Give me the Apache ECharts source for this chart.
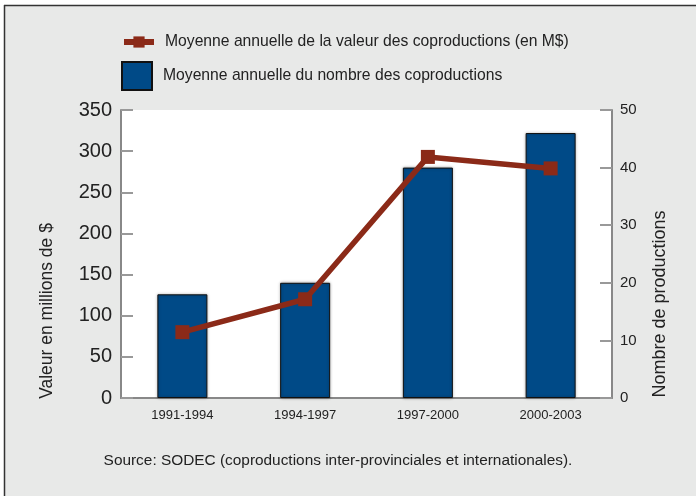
<!DOCTYPE html>
<html>
<head>
<meta charset="utf-8">
<script src="https://cdn.jsdelivr.net/npm/echarts@6/dist/echarts.min.js"></script>
<style>
  html, body { margin: 0; padding: 0; background: #fff; }
  #chart { width: 696px; height: 496px; }
</style>
</head>
<body>
<div id="chart"></div>
<script>
// periodes
var periodes = ["1991-1994", "1994-1997", "1997-2000", "2000-2003"];
// valeur moyenne annuelle (M$) - axe gauche
var valeurs = [80, 120, 293, 279];
// nombre moyen annuel de coproductions - axe droit
var nombres = [18, 20, 40, 46];

var nomValeur = "Moyenne annuelle de la valeur des coproductions (en M$)";
var nomNombre = "Moyenne annuelle du nombre des coproductions";

var font = "Liberation Sans, Arial, sans-serif";
var chart = echarts.init(document.getElementById("chart"));

chart.setOption({
  backgroundColor: "#e8e9e8",
  textStyle: { fontFamily: font },
  animation: false,
  graphic: [
    { type: "rect", shape: { x: 0, y: 0, width: 696, height: 5 }, style: { fill: "#fff" } },
    { type: "rect", shape: { x: 0, y: 0, width: 4, height: 496 }, style: { fill: "#fff" } },
    { type: "line", shape: { x1: 4, y1: 5.5, x2: 696, y2: 5.5 }, style: { stroke: "#333", lineWidth: 1.5 } },
    { type: "line", shape: { x1: 4.5, y1: 5, x2: 4.5, y2: 496 }, style: { stroke: "#333", lineWidth: 1.5 } },
    {
      type: "text", x: 47, y: 311, rotation: Math.PI / 2,
      style: { text: "Valeur en millions de $", fill: "#222", font: "17.5px " + font, align: "center", verticalAlign: "middle" }
    },
    {
      type: "text", x: 660, y: 304, rotation: Math.PI / 2,
      style: { text: "Nombre de productions", fill: "#222", font: "18px " + font, align: "center", verticalAlign: "middle" }
    },
    {
      type: "text", x: 338, y: 461,
      style: { text: "Source: SODEC (coproductions inter-provinciales et internationales).", fill: "#222", font: "15.4px " + font, align: "center", verticalAlign: "middle" }
    }
  ],
  legend: [
    {
      data: [nomValeur], left: 121, top: 34, padding: 0, itemWidth: 30, itemHeight: 14,
      lineStyle: { width: 6 },
      textStyle: { fontSize: 15.7, color: "#222", fontFamily: font, padding: [0, 0, 0, 6] }
    },
    {
      data: [{ name: nomNombre, icon: "rect" }], left: 121, top: 61, padding: 0, itemWidth: 30, itemHeight: 28,
      textStyle: { fontSize: 15.7, color: "#222", fontFamily: font, padding: [0, 0, 0, 6] }
    }
  ],
  grid: { left: 121, right: 84, top: 110, bottom: 98, show: true, backgroundColor: "#fff", borderWidth: 0 },
  xAxis: {
    type: "category",
    data: periodes,
    axisTick: { show: false },
    axisLine: { lineStyle: { color: "#888", width: 2 } },
    axisLabel: { fontSize: 13, color: "#222", margin: 11 }
  },
  yAxis: [
    {
      type: "value", min: 0, max: 350, interval: 50,
      axisLine: { show: true, lineStyle: { color: "#888", width: 2 } },
      axisTick: { show: true, inside: true, length: 12, lineStyle: { color: "#999", width: 2 } },
      splitLine: { show: false },
      axisLabel: { fontSize: 20, color: "#222", margin: 9 }
    },
    {
      type: "value", min: 0, max: 50, interval: 10,
      axisLine: { show: true, lineStyle: { color: "#888", width: 2 } },
      axisTick: { show: true, inside: true, length: 12, lineStyle: { color: "#999", width: 2 } },
      splitLine: { show: false },
      axisLabel: { fontSize: 15, color: "#222", margin: 8 }
    }
  ],
  series: [
    {
      name: nomNombre,
      type: "bar",
      yAxisIndex: 1,
      data: nombres,
      barWidth: 50,
      itemStyle: {
        color: "#004a87", borderColor: "#111", borderWidth: 1,
        shadowColor: "rgba(0,0,0,0.35)", shadowBlur: 3
      }
    },
    {
      name: nomValeur,
      type: "line",
      yAxisIndex: 0,
      data: valeurs,
      symbol: "rect",
      symbolSize: 14,
      lineStyle: { color: "#8b2a18", width: 5.5 },
      itemStyle: { color: "#8b2a18" }
    }
  ]
});
</script>
</body>
</html>
